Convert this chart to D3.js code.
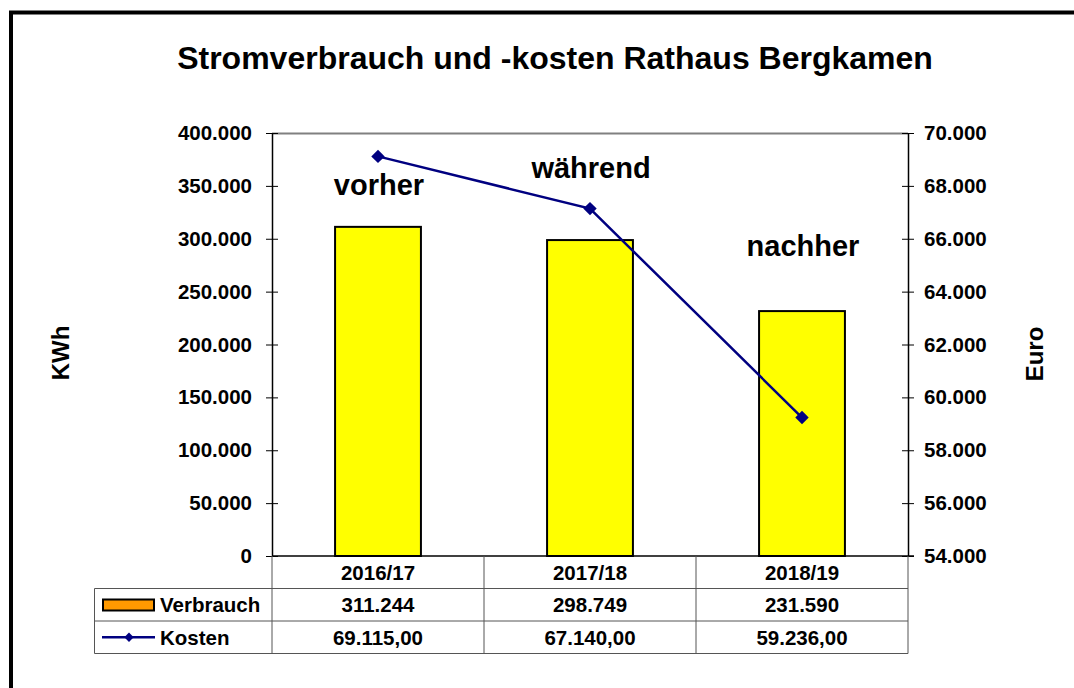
<!DOCTYPE html>
<html>
<head>
<meta charset="utf-8">
<script src="https://cdn.jsdelivr.net/npm/d3@7"></script>
<style>
  body { margin: 0; background: #fff; overflow: hidden; }
  svg { display: block; font-family: "Liberation Sans", Arial, sans-serif; font-weight: bold; }
</style>
</head>
<body>
<svg id="chart" width="1074" height="688"></svg>
<script>
// data
const years = ['2016/17', '2017/18', '2018/19'];
const verbrauch = [311244, 298749, 231590];
const kosten = [69115, 67140, 59236];
const phases = ['vorher', 'während', 'nachher'];
const leftTicks = [0, 50000, 100000, 150000, 200000, 250000, 300000, 350000, 400000];
const rightTicks = [54000, 56000, 58000, 60000, 62000, 64000, 66000, 68000, 70000];

const de = d3.formatLocale({ decimal: ',', thousands: '.', grouping: [3], currency: ['', ' €'] });
const fmtInt = de.format(',');
const fmtEur = de.format(',.2f');

// layout
const plot = { left: 272, right: 908, top: 133, bottom: 556 };
const rowH = 32.5;
const tableLeft = 94.5;
const phaseBaseline = [195, 178, 256]; // y of the phase labels

const svg = d3.select('#chart');

// outer frame (runs off the right and bottom edge)
svg.append('rect')
    .attr('x', 11).attr('y', 12.5)
    .attr('width', 1400).attr('height', 1000)
    .attr('fill', 'none')
    .attr('stroke', '#000')
    .attr('stroke-width', 4);

// title
svg.append('text')
    .attr('x', 555).attr('y', 69)
    .attr('text-anchor', 'middle')
    .style('font-size', '32px')
    .text('Stromverbrauch und -kosten Rathaus Bergkamen');

// scales
const x = d3.scaleBand().domain(years).range([plot.left, plot.right]);
const barW = x.bandwidth() * 0.405;
const yL = d3.scaleLinear().domain([0, 400000]).range([plot.bottom, plot.top]);
const yR = d3.scaleLinear().domain([54000, 70000]).range([plot.bottom, plot.top]);

// plot top border (grey)
svg.append('line')
    .attr('x1', plot.left).attr('x2', plot.right)
    .attr('y1', plot.top + 0.5).attr('y2', plot.top + 0.5)
    .attr('stroke', '#808080').attr('stroke-width', 2);

// bars
svg.selectAll('.bar')
    .data(years)
    .join('rect')
    .attr('class', 'bar')
    .attr('x', (d) => x(d) + (x.bandwidth() - barW) / 2)
    .attr('width', barW)
    .attr('y', (d, i) => yL(verbrauch[i]))
    .attr('height', (d, i) => yL(0) - yL(verbrauch[i]))
    .attr('fill', '#ffff00')
    .attr('stroke', '#000')
    .attr('stroke-width', 2);

// axes
const leftAxis = d3.axisLeft(yL).tickValues(leftTicks).tickFormat(fmtInt)
    .tickSizeInner(6).tickSizeOuter(0).tickPadding(14);
const rightAxis = d3.axisRight(yR).tickValues(rightTicks).tickFormat(fmtInt)
    .tickSizeInner(6).tickSizeOuter(0).tickPadding(10);

function styleAxis(g, inner) {
    g.select('.domain').attr('stroke', '#000').attr('stroke-width', 1.5);
    g.selectAll('.tick line').attr('stroke', '#000').attr('x1', inner);
    g.selectAll('.tick text')
        .attr('fill', '#000')
        .style('font-size', '20.5px')
        .style('font-family', '"Liberation Sans", Arial, sans-serif')
        .style('font-weight', 'bold');
}

svg.append('g')
    .attr('transform', `translate(${plot.left},0)`)
    .call(leftAxis)
    .call((g) => styleAxis(g, 6));

svg.append('g')
    .attr('transform', `translate(${plot.right},0)`)
    .call(rightAxis)
    .call((g) => styleAxis(g, -6));

// bottom axis line
svg.append('line')
    .attr('x1', plot.left).attr('x2', plot.right + 6)
    .attr('y1', plot.bottom).attr('y2', plot.bottom)
    .attr('stroke', '#000').attr('stroke-width', 1.5);

// axis titles
svg.append('text')
    .attr('transform', 'translate(69,353) rotate(-90)')
    .attr('text-anchor', 'middle')
    .style('font-size', '24px')
    .text('KWh');
svg.append('text')
    .attr('transform', 'translate(1043,354) rotate(-90)')
    .attr('text-anchor', 'middle')
    .style('font-size', '24px')
    .text('Euro');

// cost line
const line = d3.line()
    .x((d, i) => x(years[i]) + x.bandwidth() / 2)
    .y((d) => yR(d));

svg.append('path')
    .datum(kosten)
    .attr('d', line)
    .attr('fill', 'none')
    .attr('stroke', '#000080')
    .attr('stroke-width', 2.5);

const diamond = d3.symbol().type(d3.symbolDiamond2).size(115);
svg.selectAll('.marker')
    .data(kosten)
    .join('path')
    .attr('class', 'marker')
    .attr('d', diamond)
    .attr('transform', (d, i) => `translate(${x(years[i]) + x.bandwidth() / 2},${yR(d)})`)
    .attr('fill', '#000080');

// phase labels
svg.selectAll('.phase')
    .data(phases)
    .join('text')
    .attr('class', 'phase')
    .attr('x', (d, i) => x(years[i]) + x.bandwidth() / 2 + 1)
    .attr('y', (d, i) => phaseBaseline[i])
    .attr('text-anchor', 'middle')
    .style('font-size', '29px')
    .text((d) => d);

// data table
const table = svg.append('g');
const gridColor = '#555';
const rowTop = (r) => plot.bottom + r * rowH;

// horizontal grid lines
[1, 2, 3].forEach((r) => {
    table.append('line')
        .attr('x1', tableLeft).attr('x2', plot.right)
        .attr('y1', rowTop(r)).attr('y2', rowTop(r))
        .attr('stroke', gridColor).attr('stroke-width', 1);
});
// vertical grid lines
years.forEach((d) => {
    table.append('line')
        .attr('x1', x(d)).attr('x2', x(d))
        .attr('y1', plot.bottom).attr('y2', rowTop(3))
        .attr('stroke', gridColor).attr('stroke-width', 1);
});
table.append('line')
    .attr('x1', plot.right).attr('x2', plot.right)
    .attr('y1', plot.bottom).attr('y2', rowTop(3))
    .attr('stroke', gridColor).attr('stroke-width', 1);
table.append('line')
    .attr('x1', tableLeft).attr('x2', tableLeft)
    .attr('y1', rowTop(1)).attr('y2', rowTop(3))
    .attr('stroke', gridColor).attr('stroke-width', 1);

const rows = [years, verbrauch.map(fmtInt), kosten.map(fmtEur)];
rows.forEach((vals, r) => {
    table.selectAll(`.cell-${r}`)
        .data(vals)
        .join('text')
        .attr('class', `cell-${r}`)
        .attr('x', (d, i) => x(years[i]) + x.bandwidth() / 2)
        .attr('y', rowTop(r) + rowH / 2)
        .attr('dy', '0.36em')
        .attr('text-anchor', 'middle')
        .style('font-size', '20.5px')
        .text((d) => d);
});

// legend keys in the table
table.append('rect')
    .attr('x', 103).attr('y', 599.5)
    .attr('width', 51).attr('height', 11)
    .attr('fill', '#ff9900')
    .attr('stroke', '#000').attr('stroke-width', 2);
table.append('text')
    .attr('x', 160).attr('y', rowTop(1) + rowH / 2).attr('dy', '0.36em')
    .style('font-size', '20.5px')
    .text('Verbrauch');

const keyY = rowTop(2) + rowH / 2;
table.append('line')
    .attr('x1', 102).attr('x2', 155)
    .attr('y1', keyY).attr('y2', keyY)
    .attr('stroke', '#000080').attr('stroke-width', 2.5);
table.append('path')
    .attr('d', d3.symbol().type(d3.symbolDiamond2).size(55))
    .attr('transform', `translate(129,${keyY})`)
    .attr('fill', '#000080');
table.append('text')
    .attr('x', 160).attr('y', keyY).attr('dy', '0.36em')
    .style('font-size', '20.5px')
    .text('Kosten');
</script>
</body>
</html>
